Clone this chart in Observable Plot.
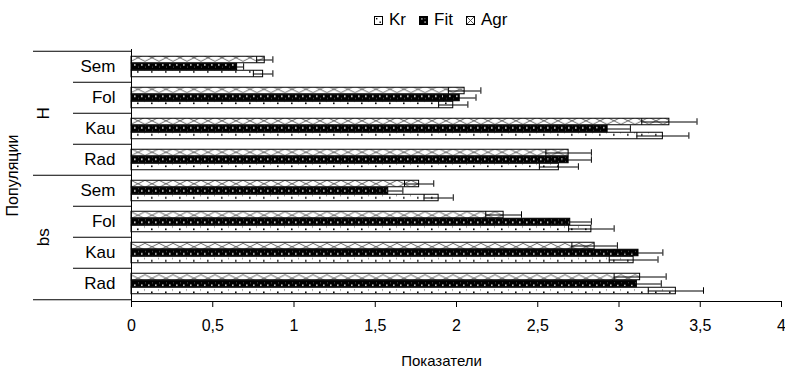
<!DOCTYPE html>
<html><head><meta charset="utf-8">
<script src="https://cdn.jsdelivr.net/npm/d3@7"></script>
<script src="https://cdn.jsdelivr.net/npm/@observablehq/plot@0.6"></script>
<style>
body{margin:0;background:#fff;font-family:Arial,"Liberation Sans",sans-serif;color:#000;}
#wrap{position:relative;width:785px;height:372px;overflow:hidden;}
#legend{position:absolute;top:9px;left:374px;height:22px;display:flex;align-items:center;font-size:17px;white-space:nowrap;}
#legend .it{display:flex;align-items:center;margin-right:13px;}
#legend svg{margin-right:6px;}
#chart{position:absolute;top:40px;left:0;}
</style></head>
<body>
<div id="wrap">
  <div id="legend"></div>
  <div id="chart"></div>
</div>
<script>
// ---- data ----
const groups = ["H", "H", "H", "H", "bs", "bs", "bs", "bs"];
const categories = ["Sem", "Fol", "Kau", "Rad", "Sem", "Fol", "Kau", "Rad"];
const series = ["Kr", "Fit", "Agr"];
const kr     = [0.81, 1.98, 3.27, 2.63, 1.89, 2.83, 3.09, 3.35];
const krErr  = [0.06, 0.09, 0.16, 0.12, 0.09, 0.14, 0.15, 0.17];
const fit    = [0.65, 2.02, 2.93, 2.69, 1.58, 2.70, 3.12, 3.11];
const fitErr = [0.04, 0.10, 0.14, 0.14, 0.09, 0.13, 0.15, 0.15];
const agr    = [0.82, 2.05, 3.31, 2.69, 1.77, 2.29, 2.85, 3.13];
const agrErr = [0.05, 0.10, 0.17, 0.14, 0.09, 0.11, 0.14, 0.16];
const xTicks = [0, 0.5, 1, 1.5, 2, 2.5, 3, 3.5, 4];
const xTitle = "Показатели";
const yTitle = "Популяции";

// ---- layout ----
const W = 785, H = 332;
const mL = 131, mR = 4, mT = 9, mB = 71;
const keys = categories.map((c, i) => groups[i] + "|" + c);
const bw = (H - mT - mB) / keys.length;
const barH = 7;
const pad = (bw - 3 * barH) / 2;
const slotOf = {Agr: 0, Fit: 1, Kr: 2};
const valuesOf = {Kr: [kr, krErr], Fit: [fit, fitErr], Agr: [agr, agrErr]};

const long = series.flatMap(s => keys.map((k, i) => ({
  key: k, series: s, value: valuesOf[s][0][i], err: valuesOf[s][1][i]
})));

// separators
const groupNames = [...new Set(groups)];
const groupFirst = groupNames.map(g => keys[groups.indexOf(g)]);
const catSeps = keys.filter((k, i) => i > 0 && groups[i] === groups[i - 1]);
const groupLabels = groupNames.map(g => {
  const idx = groups.map((x, i) => x === g ? i : -1).filter(i => i >= 0);
  return {name: g, key: keys[idx[Math.floor(idx.length / 2)]]};
});
const plotW = W - mL - mR;

const marks = [];
for (const s of series) {
  const d = long.filter(r => r.series === s);
  const top = pad + slotOf[s] * barH;
  const bottom = bw - top - barH;
  marks.push(Plot.barX(d, {y: "key", x: "value", fill: `url(#pat-${s})`, stroke: "#000", strokeWidth: 1, insetTop: top, insetBottom: bottom}));
}
for (const s of series) {
  const d = long.filter(r => r.series === s);
  const top = pad + slotOf[s] * barH;
  const bottom = bw - top - barH;
  const dy = top + barH / 2 - bw / 2;
  marks.push(Plot.ruleY(d, {y: "key", x1: r => r.value - r.err, x2: r => r.value + r.err, dy, stroke: "#000", strokeWidth: 1}));
  marks.push(Plot.tickX(d, {y: "key", x: r => r.value - r.err, insetTop: top, insetBottom: bottom, stroke: "#000", strokeWidth: 1}));
  marks.push(Plot.tickX(d, {y: "key", x: r => r.value + r.err, insetTop: top, insetBottom: bottom, stroke: "#000", strokeWidth: 1}));
}
// axes lines
marks.push(Plot.frame({anchor: "bottom", stroke: "#000"}));
marks.push(Plot.ruleX([0], {stroke: "#000", insetBottom: -6}));
// separators left of plot
marks.push(Plot.ruleY(catSeps, {y: d => d, dy: -bw / 2, insetLeft: -58, insetRight: plotW, stroke: "#000"}));
marks.push(Plot.ruleY(groupFirst, {y: d => d, dy: -bw / 2, insetLeft: -98, insetRight: plotW, stroke: "#000"}));
marks.push(Plot.ruleY([keys[keys.length - 1]], {y: d => d, dy: bw / 2, insetLeft: -98, insetRight: plotW, stroke: "#000"}));
// axes
marks.push(Plot.axisX({ticks: xTicks, tickFormat: d => String(d).replace(".", ","), tickSize: 6, tickPadding: 12, fontSize: 16, label: null}));
marks.push(Plot.axisY({tickSize: 0, tickPadding: 16, tickFormat: k => k.split("|")[1], fontSize: 17, label: null}));
marks.push(Plot.text(groupLabels, {y: "key", text: "name", frameAnchor: "left", textAnchor: "middle", lineAnchor: "middle", dx: -88, dy: -bw / 2, rotate: -90, fontSize: 17}));
marks.push(Plot.text([yTitle], {frameAnchor: "left", textAnchor: "middle", lineAnchor: "middle", dx: -119, rotate: -90, fontSize: 16}));
marks.push(Plot.text([xTitle], {frameAnchor: "bottom", textAnchor: "middle", lineAnchor: "middle", dx: -15, dy: 60, fontSize: 15}));

const chart = Plot.plot({
  width: W, height: H,
  marginLeft: mL, marginRight: mR, marginTop: mT, marginBottom: mB,
  style: {fontFamily: "Arial, 'Liberation Sans', sans-serif", fontSize: "16px", color: "#000", background: "#fff", overflow: "visible"},
  x: {domain: [0, 4]},
  y: {domain: keys, padding: 0},
  marks
});

// patterns (aligned to bands)
const patDefs = (() => {
  const t = s => pad + slotOf[s] * barH;
  const kTop = t("Kr"), fTop = t("Fit"), aTop = t("Agr");
  return `
  <pattern id="pat-Kr" patternUnits="userSpaceOnUse" x="${mL}" y="${mT}" width="14" height="${bw}">
    <rect width="14" height="${bw}" fill="#fff"/>
    <rect x="6" y="${kTop + 2.8}" width="1.6" height="1.6" fill="#000"/>
    <rect x="13" y="${kTop + 0.8}" width="1" height="1" fill="#555"/>
  </pattern>
  <pattern id="pat-Fit" patternUnits="userSpaceOnUse" x="${mL}" y="${mT}" width="7" height="${bw}">
    <rect width="7" height="${bw}" fill="#000"/>
    <rect x="3" y="${fTop + 2.8}" width="1.6" height="1.6" fill="#ddd"/>
    <rect x="0" y="${fTop + 0.8}" width="1" height="1" fill="#666"/>
    <rect x="0" y="${fTop + 5.2}" width="1" height="1" fill="#666"/>
  </pattern>
  <pattern id="pat-Agr" patternUnits="userSpaceOnUse" x="${mL}" y="${mT}" width="14" height="${bw}">
    <rect width="14" height="${bw}" fill="#fff"/>
    <path d="M0,${aTop} L14,${aTop + barH} M0,${aTop + barH} L14,${aTop}" stroke="#555" stroke-width="0.9" fill="none"/>
  </pattern>`;
})();
const svgEl = chart.tagName.toLowerCase() === "svg" ? chart : chart.querySelector("svg");
d3.select(svgEl).insert("defs", ":first-child").html(patDefs);
document.getElementById("chart").appendChild(chart);

// legend
const swatch = {
  Kr: `<rect x="0.5" y="0.5" width="8" height="8" fill="#fff" stroke="#000"/><rect x="2" y="2" width="1.4" height="1.4"/><rect x="5.5" y="5.5" width="1.4" height="1.4"/>`,
  Fit: `<rect x="0.5" y="0.5" width="8" height="8" fill="#000" stroke="#000"/><rect x="2.2" y="2.2" width="1.4" height="1.4" fill="#ccc"/><rect x="5.4" y="5.4" width="1.4" height="1.4" fill="#ccc"/><rect x="5.4" y="2.2" width="1" height="1" fill="#888"/>`,
  Agr: `<rect x="0.5" y="0.5" width="8" height="8" fill="#fff" stroke="#000"/><path d="M1,1L8,8M1,8L8,1" stroke="#444" stroke-width="0.9"/>`
};
const leg = document.getElementById("legend");
for (const s of series) {
  const it = document.createElement("div");
  it.className = "it";
  it.innerHTML = `<svg width="9" height="9" viewBox="0 0 9 9">${swatch[s]}</svg><span>${s}</span>`;
  leg.appendChild(it);
}
</script>
</body></html>
